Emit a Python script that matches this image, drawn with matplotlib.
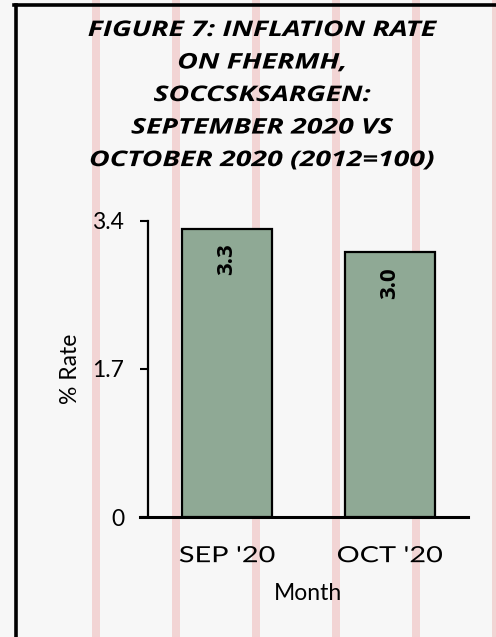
import matplotlib
matplotlib.use("Agg")
import matplotlib.pyplot as plt
from matplotlib.patches import Rectangle
from matplotlib.lines import Line2D
from matplotlib.patheffects import AbstractPathEffect
from matplotlib.transforms import Affine2D

# ---- data ----
months = ["SEP '20", "OCT '20"]
rates = [3.31, 3.04]
value_labels = ["3.3", "3.0"]
y_ticks = [0, 1.7, 3.4]
y_tick_labels = ["0", "1.7", "3.4"]
title_text = ("FIGURE 7: INFLATION RATE\nON FHERMH,\nSOCCSKSARGEN:\n"
              "SEPTEMBER 2020 VS\nOCTOBER 2020 (2012=100)")


class Stretch(AbstractPathEffect):
    """Widen text horizontally about its own centre (imitates letter spacing)."""
    def __init__(self, sx):
        super().__init__()
        self.sx = sx

    def draw_path(self, renderer, gc, tpath, affine, rgbFace=None):
        ext = affine.transform_path(tpath).get_extents()
        cx = (ext.x0 + ext.x1) / 2
        tr = affine + Affine2D().translate(-cx, 0).scale(self.sx, 1).translate(cx, 0)
        renderer.draw_path(gc, tpath, tr, rgbFace)


W, H = 496, 637
fig = plt.figure(figsize=(W / 100, H / 100), dpi=100)
fig.patch.set_facecolor("#f7f7f7")

# decorative vertical stripes (figure background)
for cx in range(96, W + 10, 80):
    fig.patches.append(Rectangle(((cx - 4) / W, 0), 8 / W, 1,
                                 transform=fig.transFigure,
                                 facecolor="#f2d4d4", edgecolor="none", zorder=-5))

# frame (left and top border; chart is cropped on right/bottom)
fig.add_artist(Line2D([15.5 / W, 15.5 / W], [0, 1 - 5 / H],
                      transform=fig.transFigure, color="black", lw=2.6, zorder=-4))
fig.add_artist(Line2D([14 / W, 1], [1 - 5 / H, 1 - 5 / H],
                      transform=fig.transFigure, color="black", lw=2.6, zorder=-4))

ax = fig.add_axes([148 / W, 1 - 517 / H, (468 - 148) / W, (517 - 221) / H])
ax.set_facecolor("none")
ax.set_zorder(2)

x = range(len(months))
bars = ax.bar(x, rates, width=0.555, color="#8fa995", edgecolor="black",
              linewidth=1.6, zorder=3)

for b, lab in zip(bars, value_labels):
    ax.text(b.get_x() + b.get_width() / 2, b.get_height() - 0.17, lab,
            rotation=90, ha="center", va="top", fontsize=16,
            fontweight="bold", family="Open Sans", color="black", zorder=4)

ax.set_xlim(-0.485, 1.48)
ax.set_ylim(0, 3.4)
ax.set_yticks(y_ticks)
ax.set_yticklabels(y_tick_labels, family="Lato", fontsize=16.5)
ax.set_xticks(list(x))
ax.set_xticklabels(months, family="Lato", fontsize=16,
                   path_effects=[Stretch(1.3)])
ax.tick_params(axis="y", length=6, width=1.5, pad=11, direction="out")
ax.tick_params(axis="x", length=0, pad=21)
for s in ["top", "right"]:
    ax.spines[s].set_visible(False)
ax.spines["left"].set_linewidth(1.6)
ax.spines["bottom"].set_linewidth(2.2)
ax.spines["bottom"].set_bounds(-0.535, 1.48)

ax.set_xlabel("Month", family="Lato", fontsize=16.5, labelpad=12)
ax.set_ylabel("% Rate", family="Lato", fontsize=16.5, labelpad=8)

fig.text(262 / W, 1 - 20 / H, title_text, ha="center", va="top",
         family="Open Sans", fontweight="bold", style="italic",
         fontsize=15.5, linespacing=1.72, color="black",
         path_effects=[Stretch(1.32)])

fig.savefig("out.png", dpi=100, facecolor=fig.get_facecolor())
